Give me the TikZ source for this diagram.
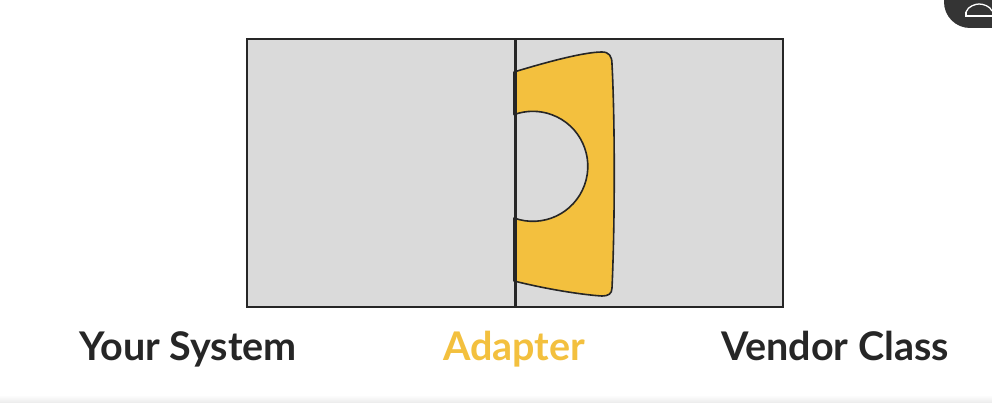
\documentclass[tikz,border=0pt]{standalone}
\usepackage{fontspec}
\setmainfont{Lato}
\definecolor{boxgray}{HTML}{DADADA}
\definecolor{adaptyellow}{HTML}{F3C03E}
\definecolor{inkdark}{HTML}{262626}
\definecolor{cornerdark}{HTML}{343434}
\begin{document}
\begin{tikzpicture}[x=1pt,y=1pt,
  panel/.style={draw=inkdark,line width=1.8pt,fill=boxgray},
  piece/.style={draw=inkdark,line width=1.6pt,fill=adaptyellow,line join=round},
  caption/.style={font=\bfseries\fontsize{39.5}{42}\selectfont,text=inkdark,anchor=base,inner sep=0pt}]
\useasboundingbox (0,0) rectangle (992,402);
\fill[white] (0,0) rectangle (992,402);
\shade[top color=white,bottom color=black!7] (0,0) rectangle (992,7);
% corner overlay
\fill[cornerdark] (944,402) -- (944,400) arc[start angle=180,end angle=270,radius=26] -- (992,374) -- (992,402) -- cycle;
\draw[white,line width=1.3pt] (966,390) .. controls (968,396) and (976,398) .. (979,398) .. controls (983,398) and (990,396) .. (992,391);
\draw[white,line width=1.3pt] (966,390) -- (966,386) -- (992,386);
% panels
\node[panel,minimum width=268pt,minimum height=268pt,inner sep=0pt,anchor=south west] (sys) at (246,94) {};
\node[panel,minimum width=268pt,minimum height=268pt,inner sep=0pt,anchor=south west] (vendor) at (514,94) {};
% adapter piece
\draw[piece] (514,121) -- (514,184) arc[start angle=-110,end angle=110,radius=55] -- (514,330)
  .. controls (550,341) and (585,350) .. (602,350)
  .. controls (609,350) and (612,346) .. (612,338)
  .. controls (615,280) and (615,180) .. (612,114)
  .. controls (612,108) and (608,106) .. (602,106)
  .. controls (585,107) and (550,112) .. (514,121) -- cycle;
\draw[draw=inkdark,line width=1.8pt] (sys.north east) -- (sys.south east);
% captions
\node[caption] (lsys) at (188,42) {Your System};
\node[caption,text=adaptyellow] (ladapt) at (514,42) {Adapter};
\node[caption] (lvendor) at (835,42) {Vendor Class};
\end{tikzpicture}
\end{document}
